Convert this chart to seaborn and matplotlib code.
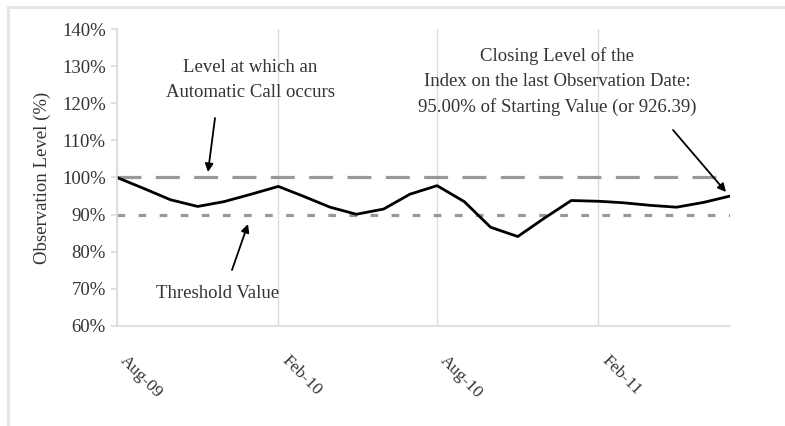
"""Observation level of the index vs. automatic call level and threshold."""

import matplotlib

matplotlib.use("Agg")

import matplotlib.dates as mdates
import matplotlib.pyplot as plt
import pandas as pd
import seaborn as sns
from matplotlib.patches import Rectangle
from matplotlib.ticker import FuncFormatter, MultipleLocator


START_MONTH = "2009-08-01"
# month-end observation levels, % of starting value
observation_levels = [
    100.0, 97.0, 94.0, 92.2, 93.5, 95.5, 97.6, 95.0, 92.0, 90.1, 91.5, 95.5,
    97.8, 93.5, 86.6, 84.1, 89.0, 93.8, 93.6, 93.2, 92.5, 92.0, 93.3, 95.0,
]
call_level = 100.0
threshold_level = 90.0
tick_dates = ["2009-08-01", "2010-02-01", "2010-08-01", "2011-02-01"]

W, H = 785, 426
TEXT_COLOR = "#333333"
GRID_COLOR = "#dcdcdc"
FONT = ["Liberation Serif", "DejaVu Serif"]
FS = 13.5


def px(x, y):
    """Image pixel (origin top-left) -> figure pixels (origin bottom-left)."""
    return (x, H - y)


df = pd.DataFrame(
    {
        "date": pd.date_range(START_MONTH, periods=len(observation_levels), freq="MS"),
        "level": observation_levels,
    }
)

sns.set_theme(style="white")
plt.rcParams["font.family"] = FONT
plt.rcParams["text.color"] = TEXT_COLOR

fig = plt.figure(figsize=(W / 100, H / 100), dpi=100)
ax = fig.add_axes([117 / W, 1 - 326 / H, (730 - 117) / W, (326 - 29) / H])

# light frame around the figure (cut off on the right and bottom in the source)
fig.patches.append(
    Rectangle((8 / W, -0.05), 1.2, 1.05 - 7 / H,
              transform=fig.transFigure, fill=False, edgecolor="#e4e4e4", lw=2.0)
)

x0, x1 = df["date"].iloc[0], df["date"].iloc[-1]

ax.plot([x0, x1], [call_level, call_level], color="#999999", lw=2.3,
        dashes=(7.5, 4.5), solid_capstyle="butt")
ax.plot([x0, x1], [threshold_level, threshold_level], color="#999999", lw=2.3,
        dashes=(2.4, 4.2))
sns.lineplot(data=df, x="date", y="level", ax=ax, color="black", lw=2.0)
ax.lines[-1].set_solid_joinstyle("round")

ax.set_xlim(x0, x1)
ax.set_ylim(60, 140)
ax.yaxis.set_major_locator(MultipleLocator(10))
ax.yaxis.set_major_formatter(FuncFormatter(lambda v, _: f"{v:.0f}%"))
ax.set_xticks(pd.to_datetime(tick_dates))
ax.xaxis.set_major_formatter(mdates.DateFormatter("%b-%y"))
ax.grid(axis="x", color=GRID_COLOR, lw=1.0)
ax.grid(axis="y", visible=False)

for side in ["top", "right"]:
    ax.spines[side].set_visible(False)
for side in ["left", "bottom"]:
    ax.spines[side].set_color(GRID_COLOR)
    ax.spines[side].set_linewidth(1.2)

ax.tick_params(axis="y", left=True, length=4, color=GRID_COLOR, labelsize=FS,
               labelcolor=TEXT_COLOR, pad=4)
ax.tick_params(axis="x", bottom=False, labelsize=12.5, labelcolor=TEXT_COLOR, pad=21)
for label in ax.get_xticklabels():
    label.set_rotation(-45)
    label.set_ha("left")
    label.set_va("bottom")
    label.set_rotation_mode("anchor")

ax.set_xlabel("")
ax.set_ylabel("Observation Level (%)", fontsize=FS, color=TEXT_COLOR, labelpad=8)

text_kw = dict(xycoords="figure pixels", ha="center", va="center",
               fontsize=FS, linespacing=1.6)
ax.annotate("Level at which an\nAutomatic Call occurs", xy=px(250, 80), **text_kw)
ax.annotate("Threshold Value", xy=px(218, 293), **text_kw)
ax.annotate("Closing Level of the\nIndex on the last Observation Date:\n"
            "95.00% of Starting Value (or 926.39)", xy=px(557, 82), **text_kw)

arrow = dict(arrowstyle="-|>", color="black", lw=1.3, mutation_scale=12,
             shrinkA=0, shrinkB=0)
for start, end in [((215, 118), (208, 172)),
                   ((232, 270), (248, 224)),
                   ((673, 130), (726, 192))]:
    ax.annotate("", xy=px(*end), xytext=px(*start), xycoords="figure pixels",
                textcoords="figure pixels", arrowprops=arrow)

fig.savefig("out.png", dpi=100)
